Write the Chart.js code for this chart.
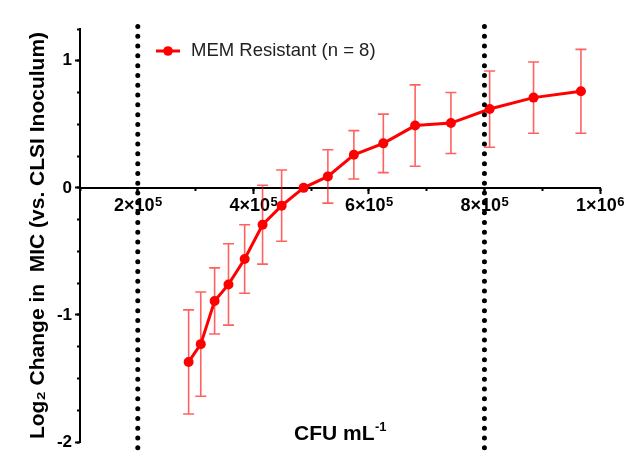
<!DOCTYPE html>
<html>
<head>
<meta charset="utf-8">
<script src="https://cdn.jsdelivr.net/npm/chart.js@4"></script>
<style>
  html, body { margin: 0; padding: 0; background: #fff; overflow: hidden; }
  #wrap { width: 650px; height: 452px; }
</style>
</head>
<body>
<div id="wrap"><canvas id="c" width="650" height="452"></canvas></div>
<script>
// ---- Data ----
const cfu = [288000, 309000, 333000, 357000, 385000, 416000, 449000, 487000, 529000, 574000, 625000, 680000, 742000, 809000, 885000, 967000];
const log2Change = [-1.37, -1.23, -0.89, -0.76, -0.56, -0.29, -0.14, 0.00, 0.09, 0.26, 0.35, 0.49, 0.51, 0.62, 0.71, 0.76];
const errSD = [0.41, 0.41, 0.26, 0.32, 0.27, 0.31, 0.28, 0.00, 0.21, 0.19, 0.23, 0.32, 0.24, 0.30, 0.28, 0.33];
const seriesLabel = 'MEM Resistant (n = 8)';

const refLinesX = [200000, 800000];      // CLSI inoculum range markers
const refLineYRange = [1.27, -2.1];

const xTickValues = [200000, 400000, 600000, 800000, 1000000];
const xTickMantissa = ['2×10', '4×10', '6×10', '8×10', '1×10'];
const xTickExponent = ['5', '5', '5', '5', '6'];
const yTickValues = [-2, -1, 0, 1];
const yTickLabels = ['-2', '-1', '0', '1'];

const xTitleMain = 'CFU mL';
const xTitleSup = '-1';
const yTitle = 'Log₂ Change in  MIC (vs. CLSI Inoculum)';

const FONT = '"Liberation Sans", Arial, "DejaVu Sans", sans-serif';
const RED = '#ff0000';

// ---- Plugins ----
const errorBars = {
  id: 'errorBars',
  beforeDatasetsDraw(chart) {
    const xs = chart.scales.x, ys = chart.scales.y, ctx = chart.ctx;
    ctx.save();
    // x tick labels (mantissa + superscript exponent), placed by the x scale
    const y0 = ys.getPixelForValue(0);
    ctx.fillStyle = '#000';
    ctx.textBaseline = 'alphabetic';
    ctx.textAlign = 'left';
    for (let i = 0; i < xTickValues.length; i++) {
      const px = xs.getPixelForValue(xTickValues[i]);
      ctx.font = 'bold 18px ' + FONT;
      const w1 = ctx.measureText(xTickMantissa[i]).width;
      ctx.font = 'bold 13px ' + FONT;
      const w2 = ctx.measureText(xTickExponent[i]).width;
      const sx = px - (w1 + w2) / 2;
      ctx.font = 'bold 18px ' + FONT;
      ctx.fillText(xTickMantissa[i], sx, y0 + 23.5);
      ctx.font = 'bold 13px ' + FONT;
      ctx.fillText(xTickExponent[i], sx + w1 + 0.5, y0 + 18.5);
    }
    // error bars
    ctx.strokeStyle = 'rgba(255,0,0,0.62)';
    ctx.lineWidth = 1.6;
    for (let i = 0; i < cfu.length; i++) {
      if (!errSD[i]) continue;
      const px = xs.getPixelForValue(cfu[i]);
      const yt = ys.getPixelForValue(log2Change[i] + errSD[i]);
      const yb = ys.getPixelForValue(log2Change[i] - errSD[i]);
      ctx.beginPath();
      ctx.moveTo(px, yt); ctx.lineTo(px, yb);
      ctx.moveTo(px - 5.5, yt); ctx.lineTo(px + 5.5, yt);
      ctx.moveTo(px - 5.5, yb); ctx.lineTo(px + 5.5, yb);
      ctx.stroke();
    }
    ctx.restore();
  }
};

const extras = {
  id: 'extras',
  afterDraw(chart) {
    const ctx = chart.ctx, ca = chart.chartArea;
    ctx.save();
    // legend
    const lx = ca.left + 76, ly = ca.top + 22;
    ctx.strokeStyle = RED; ctx.lineWidth = 3;
    ctx.beginPath(); ctx.moveTo(lx, ly); ctx.lineTo(lx + 24, ly); ctx.stroke();
    ctx.fillStyle = RED;
    ctx.beginPath(); ctx.arc(lx + 12, ly, 4.8, 0, Math.PI * 2); ctx.fill();
    ctx.fillStyle = '#222';
    ctx.font = '18.5px ' + FONT;
    ctx.textBaseline = 'middle';
    ctx.textAlign = 'left';
    ctx.fillText(seriesLabel, lx + 35, ly);
    // x title with superscript
    ctx.fillStyle = '#000';
    ctx.textBaseline = 'alphabetic';
    ctx.font = 'bold 21px ' + FONT;
    const w1 = ctx.measureText(xTitleMain).width;
    ctx.font = 'bold 13px ' + FONT;
    const w2 = ctx.measureText(xTitleSup).width;
    const cx = (ca.left + ca.right) / 2;
    const sx = cx - (w1 + w2) / 2;
    const by = 440;
    ctx.font = 'bold 21px ' + FONT;
    ctx.fillText(xTitleMain, sx, by);
    ctx.font = 'bold 13px ' + FONT;
    ctx.fillText(xTitleSup, sx + w1 + 0.5, by - 9);
    ctx.restore();
  }
};

const dotted = (xv) => ({
  type: 'line',
  data: [{x: xv, y: refLineYRange[0]}, {x: xv, y: refLineYRange[1]}],
  borderColor: '#000',
  borderWidth: 5,
  borderDash: [0, 9.8],
  borderCapStyle: 'round',
  pointRadius: 0,
  clip: false,
  fill: false
});

new Chart(document.getElementById('c'), {
  type: 'line',
  data: {
    datasets: [
      dotted(refLinesX[0]),
      dotted(refLinesX[1]),
      {
        label: seriesLabel,
        data: cfu.map((x, i) => ({x, y: log2Change[i]})),
        borderColor: RED,
        backgroundColor: RED,
        borderWidth: 3,
        pointRadius: 5,
        pointBorderWidth: 0,
        pointBackgroundColor: RED,
        tension: 0,
        fill: false
      }
    ]
  },
  options: {
    responsive: false,
    animation: false,
    devicePixelRatio: 1,
    layout: { padding: { left: 0, top: 29, right: 50, bottom: 10 } },
    plugins: { legend: { display: false }, tooltip: { enabled: false } },
    scales: {
      x: {
        type: 'linear', position: { y: 0 }, min: 100000, max: 1000000,
        afterBuildTicks: s => { s.ticks = xTickValues.map(v => ({ value: v })); },
        afterFit: s => { s.paddingLeft = 0; s.paddingRight = 0; },
        ticks: { display: false },
        grid: { drawOnChartArea: false, drawTicks: true, tickLength: 5, tickWidth: 2, tickColor: '#000' },
        border: { display: true, color: '#000', width: 2 }
      },
      xMinor: {
        type: 'linear', axis: 'x', position: { y: 0 }, min: 100000, max: 1000000,
        ticks: { stepSize: 100000, display: false },
        grid: { drawOnChartArea: false, drawTicks: true, tickLength: 3, tickWidth: 2, tickColor: '#000' },
        border: { display: false }
      },
      y: {
        type: 'linear', position: 'left', min: -2, max: 1.25,
        afterBuildTicks: s => { s.ticks = yTickValues.map(v => ({ value: v })); },
        afterFit: s => { s.width = 80; s.paddingTop = 0; s.paddingBottom = 0; },
        ticks: {
          callback: (v, i) => yTickLabels[i],
          font: { family: FONT, size: 17, weight: 'bold' }, color: '#000', padding: 3
        },
        grid: { drawOnChartArea: false, drawTicks: true, tickLength: 5, tickWidth: 2, tickColor: '#000' },
        border: { display: true, color: '#000', width: 2 },
        title: {
          display: true, text: yTitle, color: '#000',
          font: { family: FONT, size: 21, weight: 'bold' },
          padding: { top: 26, bottom: 0 }
        }
      },
      yMinor: {
        type: 'linear', axis: 'y', position: { x: 100000 }, min: -2, max: 1.25,
        ticks: { stepSize: 0.25, display: false },
        grid: { drawOnChartArea: false, drawTicks: true, tickLength: 3, tickWidth: 2, tickColor: '#000' },
        border: { display: false }
      }
    }
  },
  plugins: [errorBars, extras]
});
</script>
</body>
</html>
